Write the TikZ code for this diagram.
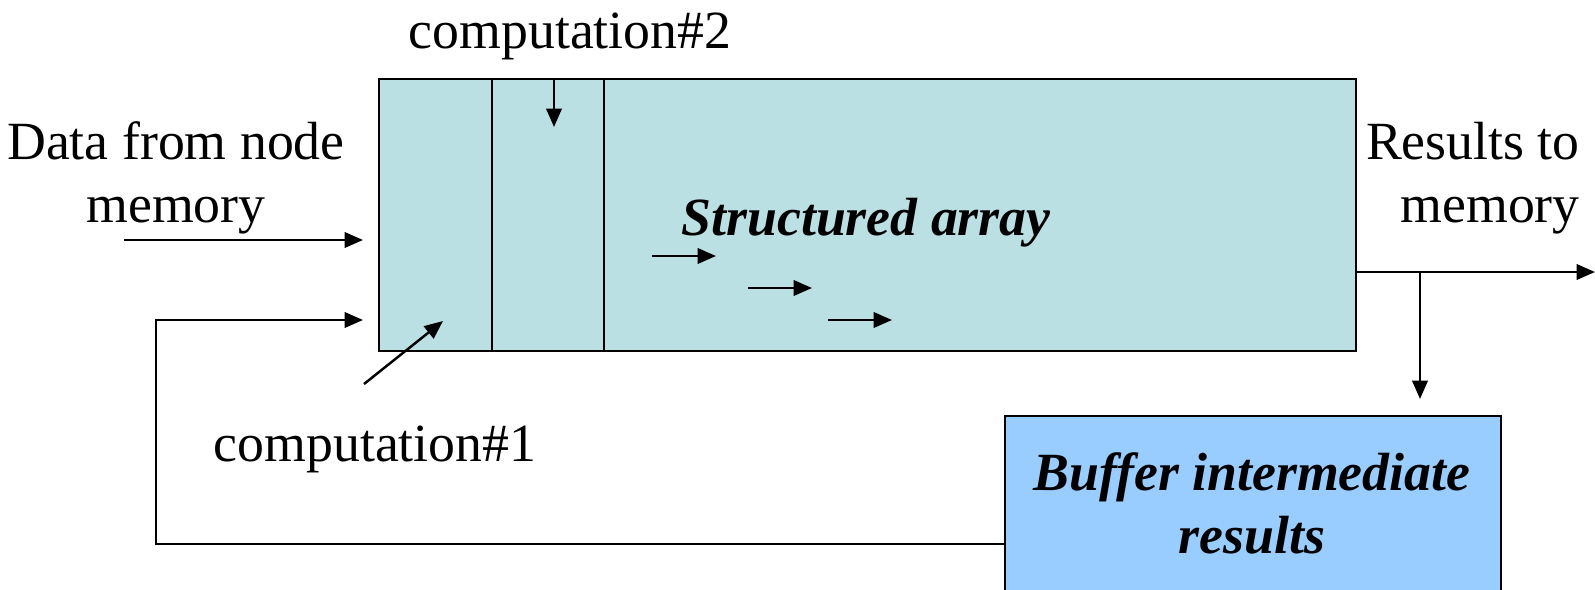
\documentclass[tikz,border=0pt]{standalone}
\usepackage{fontspec}
\setmainfont{Liberation Serif}
\usetikzlibrary{arrows.meta,positioning}
\definecolor{arrayfill}{HTML}{BBE0E3}
\definecolor{bufferfill}{HTML}{99CCFF}
\tikzset{
  plain/.style={line width=1.4pt},
  wire/.style={line width=1.4pt, -{Triangle[length=10.5pt,width=8.8pt]}},
  block/.style={draw, line width=1.4pt, inner sep=0pt},
  lbl/.style={font=\fontsize{30.6}{35.5}\selectfont, inner sep=0pt, align=center},
  emph/.style={lbl, font=\fontsize{30.6}{35.5}\selectfont\bfseries\itshape},
}
\begin{document}
\begin{tikzpicture}[x=0.02cm, y=-0.02cm]
    \useasboundingbox (0,0) rectangle (1595,589);
    % Blocks
    \node[block, fill=arrayfill, minimum width=19.54cm, minimum height=5.44cm] (array) at (867.5,215) {};
    \node[block, fill=bufferfill, minimum width=9.92cm, minimum height=4cm, anchor=north west] (buffer) at (1004,415) {};
    \draw[plain] (492,0 |- array.north) -- (492,0 |- array.south);
    \draw[plain] (604,0 |- array.north) -- (604,0 |- array.south);
    %
    % Labels (base = baseline of the last line)
    \node[lbl, anchor=base] (comp2) at (570,48) {computation\#2};
    \node[lbl, anchor=base] (datain) at (176,222) {Data from node\\memory};
    \node[lbl, anchor=base east, align=right] (dataout) at (1580,222) {Results to\\memory};
    \node[emph, anchor=base] (arraytxt) at (866,235) {Structured array};
    \node[lbl, anchor=base] (comp1) at (375,461) {computation\#1};
    \node[emph, anchor=base] (buffertxt) at (1252,553) {Buffer intermediate\\results};
    %
    % Connectors
    \coordinate (inend) at (363,240);
    \coordinate (fbend) at (363,320);
    \coordinate (loop) at (156,544);
    \coordinate (split) at (1420,272);
    \coordinate (outend) at (1595,272);
    \draw[wire] (124,240) -- (inend);
    \draw[wire] (buffer.west |- loop) -- (loop) -- (loop |- fbend) -- (fbend);
    \draw[wire] (364,384) -- (443,321);
    \draw[wire] (554,0 |- array.north) -- (554,127);
    \draw[wire] (array.east |- split) -- (outend);
    \draw[wire] (split) -- (1420,399);
    %
    \foreach \x/\y in {652/256, 748/288, 828/320}
        \draw[wire] (\x,\y) -- ++(64,0);
\end{tikzpicture}
\end{document}
